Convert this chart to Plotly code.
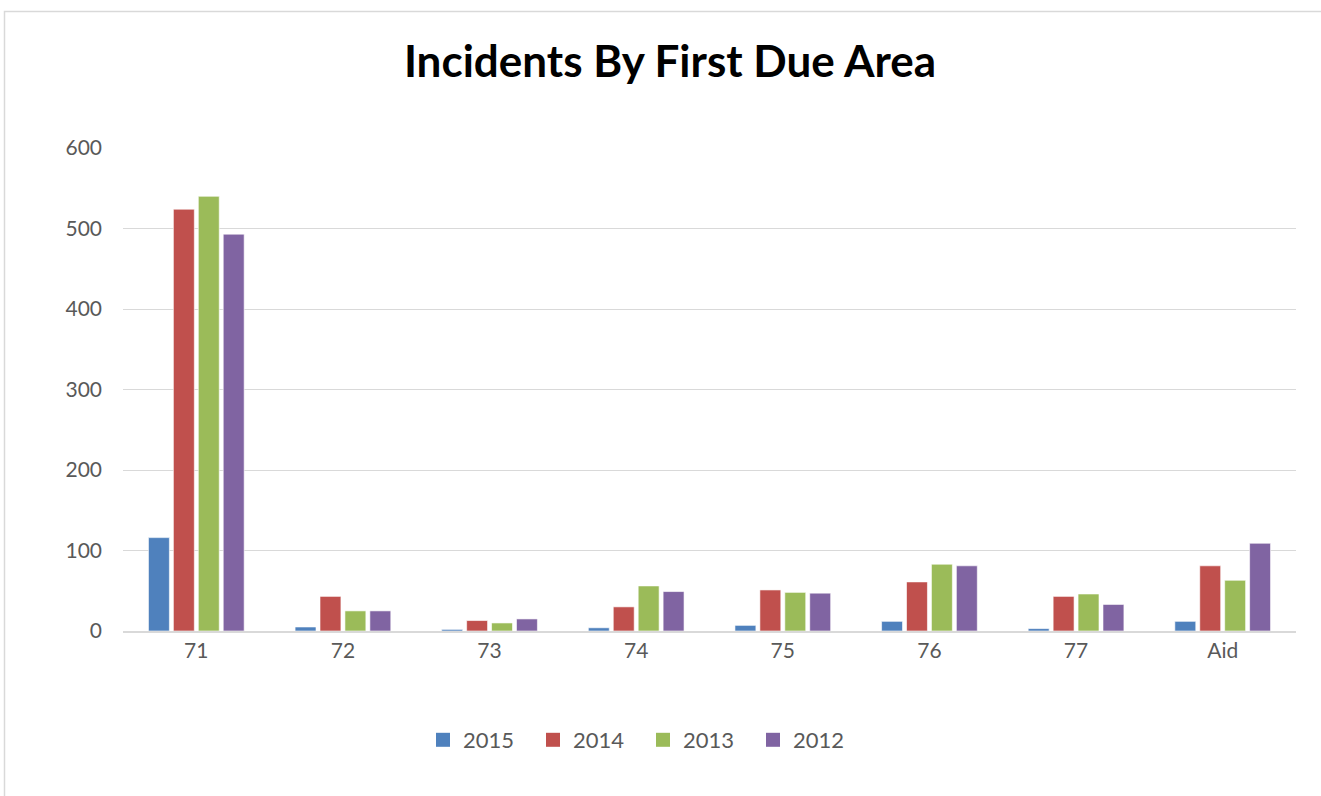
import plotly.graph_objects as go

categories = ["71", "72", "73", "74", "75", "76", "77", "Aid"]
series_names = ["2015", "2014", "2013", "2012"]
v2015 = [116, 5, 2, 4, 7, 12, 3, 12]
v2014 = [524, 43, 13, 30, 51, 61, 43, 81]
v2013 = [540, 25, 10, 56, 48, 83, 46, 63]
v2012 = [493, 25, 15, 49, 47, 81, 33, 109]
colors = ["#4F81BD", "#C0504D", "#9BBB59", "#8064A2"]

OFF = 0  # page body margin removed via post_script
W, H = 1321, 796
L, R, T, B = 123, 1296, 148, 631

fig = go.Figure()
for name, vals, c in zip(series_names, [v2015, v2014, v2013, v2012], colors):
    fig.add_trace(go.Bar(
        x=categories, y=vals, name=name, showlegend=False, legendgroup=name,
        marker=dict(color=c, line=dict(color="rgba(255,255,255,0.6)", width=1)),
    ))
for name, c in zip(series_names, colors):
    fig.add_trace(go.Scatter(
        x=[None], y=[None], mode="markers", name=name, legendgroup=name,
        marker=dict(symbol="square", size=14, color=c),
    ))

pw = R - L
ph = B - T
def px(x):
    return (x - OFF - L) / pw
def py(y):
    return (B - (y - OFF)) / ph

fig.update_layout(
    width=W, height=H,
    margin=dict(l=L, r=W - R, t=T, b=H - B, autoexpand=False),
    paper_bgcolor="white", plot_bgcolor="white",
    barmode="group", bargap=0.32, bargroupgap=0.16,
    title=dict(text="<b>Incidents By First Due Area</b>", x=(670 - OFF) / W, xanchor="center",
               xref="container", y=1 - (62 - OFF) / H, yanchor="middle",
               font=dict(family="Lato, Carlito, Arial", size=44, color="#000000")),
    font=dict(family="Lato, Carlito, Arial", size=20, color="#595959"),
    xaxis=dict(showgrid=False, showline=True, linecolor="#D9D9D9", linewidth=1.5,
               ticks="", tickfont=dict(size=21, color="#595959")),
    yaxis=dict(range=[0, 600], dtick=100, showgrid=True, gridcolor="#D9D9D9",
               gridwidth=1, zeroline=False, showline=False, ticks="",
               tickfont=dict(size=21, color="#595959"), ticklabelstandoff=20),
    legend=dict(orientation="h", x=px(643), xanchor="center", y=py(740), yanchor="middle",
                font=dict(size=22, color="#595959"), itemwidth=30,
                entrywidth=65, entrywidthmode="pixels",
                traceorder="normal"),
    showlegend=True,
    shapes=[dict(type="path", xref="paper", yref="paper",
                 path=f"M {px(4.5)} {py(800)} L {px(4.5)} {py(11.5)} L {px(1325)} {py(11.5)}",
                 line=dict(color="#D9D9D9", width=1.5))],
)

fig.write_html("out.html", config={"displayModeBar": False},
               post_script="document.body.style.margin='0';document.body.style.overflow='hidden';")
